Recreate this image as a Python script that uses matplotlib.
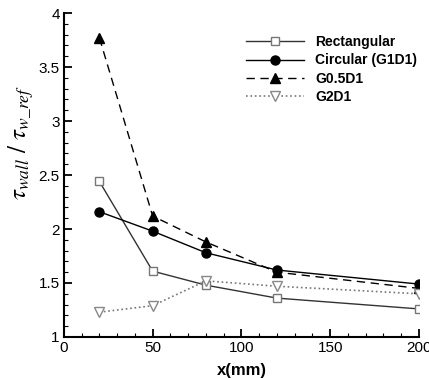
import matplotlib
matplotlib.use("Agg")
import matplotlib.pyplot as plt
from matplotlib.ticker import MultipleLocator

plt.rcParams['font.family'] = ['Liberation Sans', 'DejaVu Sans']
plt.rcParams['mathtext.fontset'] = 'stix'

# ---- data ----
x = [20, 50, 80, 120, 200]
rect = [2.44, 1.61, 1.48, 1.36, 1.26]
circ = [2.16, 1.98, 1.78, 1.62, 1.49]
g05d1 = [3.77, 2.12, 1.88, 1.60, 1.45]
g2d1 = [1.23, 1.29, 1.52, 1.47, 1.40]

fig = plt.figure(figsize=(4.29, 3.78), dpi=100)
ax = fig.add_axes([0.149, 0.1085, 0.8275, 0.857])

ax.plot(x, rect, '-', color='#333333', lw=1.0, marker='s', ms=6, mfc='white',
        mec='#777777', mew=1.0, label='Rectangular')
ax.plot(x, circ, '-', color='black', lw=1.0, marker='o', ms=6.5, mfc='black',
        mec='black', label='Circular (G1D1)')
ax.plot(x, g05d1, '--', color='black', lw=1.0, dashes=(6, 4), marker='^', ms=6.5,
        mfc='black', mec='black', label='G0.5D1')
ax.plot(x, g2d1, ':', color='#777777', lw=1.2, marker='v', ms=6.5, mfc='white',
        mec='#888888', mew=1.0, label='G2D1')

ax.set_xlim(0, 200)
ax.set_ylim(1, 4)
ax.xaxis.set_major_locator(MultipleLocator(50))
ax.xaxis.set_minor_locator(MultipleLocator(10))
ax.yaxis.set_minor_locator(MultipleLocator(0.1))
ax.set_yticks([1, 1.5, 2, 2.5, 3, 3.5, 4])
ax.set_yticklabels(['1', '1.5', '2', '2.5', '3', '3.5', '4'])

for s in ('top', 'right'):
    ax.spines[s].set_visible(False)
for s in ('left', 'bottom'):
    ax.spines[s].set_linewidth(1.5)
ax.tick_params(which='major', direction='in', length=6, width=1.3, labelsize=11, pad=3)
ax.tick_params(which='minor', direction='in', length=3, width=0.8)

ax.set_xlabel('x(mm)', fontsize=12, fontweight='bold')
ax.xaxis.set_label_coords(0.5, -0.08)
ax.set_ylabel(r'$\tau_{wall}\ /\ \tau_{w\_ref}$', fontsize=18)
ax.yaxis.set_label_coords(-0.08, 0.6)

ax.legend(loc='upper right', bbox_to_anchor=(1.03, 0.97), frameon=False,
          handlelength=4.2, labelspacing=0.3, handletextpad=0.8,
          prop={'weight': 'bold', 'size': 10})

fig.savefig('out.png', dpi=100)
